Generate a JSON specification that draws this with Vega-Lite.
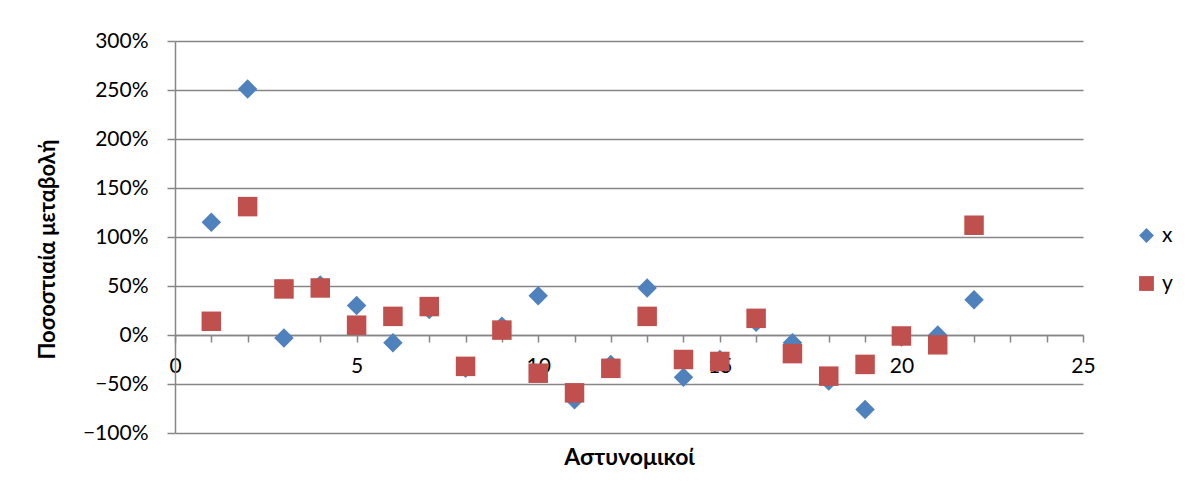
{
  "$schema": "https://vega.github.io/schema/vega-lite/v6.json",
  "width": 908,
  "height": 392,
  "autosize": "none",
  "padding": {"left": 175, "top": 41, "right": 104, "bottom": 62},
  "background": "white",
  "data": {
    "values": [
      {"n": 1, "series": "x", "value": 1.15},
      {"n": 2, "series": "x", "value": 2.51},
      {"n": 3, "series": "x", "value": -0.03},
      {"n": 4, "series": "x", "value": 0.51},
      {"n": 5, "series": "x", "value": 0.30},
      {"n": 6, "series": "x", "value": -0.08},
      {"n": 7, "series": "x", "value": 0.26},
      {"n": 8, "series": "x", "value": -0.34},
      {"n": 9, "series": "x", "value": 0.09},
      {"n": 10, "series": "x", "value": 0.40},
      {"n": 11, "series": "x", "value": -0.66},
      {"n": 12, "series": "x", "value": -0.30},
      {"n": 13, "series": "x", "value": 0.48},
      {"n": 14, "series": "x", "value": -0.43},
      {"n": 15, "series": "x", "value": -0.25},
      {"n": 16, "series": "x", "value": 0.13},
      {"n": 17, "series": "x", "value": -0.08},
      {"n": 18, "series": "x", "value": -0.47},
      {"n": 19, "series": "x", "value": -0.76},
      {"n": 20, "series": "x", "value": -0.02},
      {"n": 21, "series": "x", "value": 0.0},
      {"n": 22, "series": "x", "value": 0.36},
      {"n": 1, "series": "y", "value": 0.14},
      {"n": 2, "series": "y", "value": 1.31},
      {"n": 3, "series": "y", "value": 0.47},
      {"n": 4, "series": "y", "value": 0.48},
      {"n": 5, "series": "y", "value": 0.10},
      {"n": 6, "series": "y", "value": 0.19},
      {"n": 7, "series": "y", "value": 0.29},
      {"n": 8, "series": "y", "value": -0.32},
      {"n": 9, "series": "y", "value": 0.05},
      {"n": 10, "series": "y", "value": -0.39},
      {"n": 11, "series": "y", "value": -0.59},
      {"n": 12, "series": "y", "value": -0.34},
      {"n": 13, "series": "y", "value": 0.19},
      {"n": 14, "series": "y", "value": -0.25},
      {"n": 15, "series": "y", "value": -0.27},
      {"n": 16, "series": "y", "value": 0.17},
      {"n": 17, "series": "y", "value": -0.19},
      {"n": 18, "series": "y", "value": -0.42},
      {"n": 19, "series": "y", "value": -0.30},
      {"n": 20, "series": "y", "value": -0.01},
      {"n": 21, "series": "y", "value": -0.10},
      {"n": 22, "series": "y", "value": 1.12}
    ]
  },
  "mark": {"type": "point", "filled": true, "opacity": 1, "size": 380},
  "encoding": {
    "x": {
      "field": "n",
      "type": "quantitative",
      "scale": {"domain": [0, 25], "nice": false, "zero": true},
      "axis": {
        "values": [0,1,2,3,4,5,6,7,8,9,10,11,12,13,14,15,16,17,18,19,20,21,22,23,24,25],
        "labelExpr": "datum.value % 5 === 0 ? datum.label : ''",
        "offset": -98,
        "grid": false,
        "domainColor": "#868686",
        "domainWidth": 1.5,
        "tickColor": "#868686",
        "tickWidth": 1.5,
        "tickSize": 7,
        "labelPadding": 24,
        "labelBaseline": "middle",
        "labelFontSize": 21,
        "labelFont": "Lato",
        "labelColor": "#000000",
        "labelFlush": false,
        "labelOverlap": false,
        "title": "Αστυνομικοί",
        "titleFont": "Lato",
        "titleFontSize": 23,
        "titleFontWeight": "bold",
        "titleColor": "#000000",
        "titleY": 122,
        "titleX": 454,
        "titleBaseline": "middle",
        "titleAnchor": "middle"
      }
    },
    "y": {
      "field": "value",
      "type": "quantitative",
      "scale": {"domain": [-1, 3], "nice": false, "zero": false},
      "axis": {
        "values": [-1, -0.5, 0, 0.5, 1, 1.5, 2, 2.5, 3],
        "format": ".0%",
        "grid": true,
        "gridColor": "#868686",
        "gridWidth": 1.5,
        "domainColor": "#868686",
        "domainWidth": 1.5,
        "tickColor": "#868686",
        "tickWidth": 1.5,
        "tickSize": 8,
        "labelPadding": 19,
        "labelFontSize": 21,
        "labelFont": "Lato",
        "labelColor": "#000000",
        "labelFlush": false,
        "title": "Ποσοστιαία μεταβολή",
        "titleFont": "Lato",
        "titleFontSize": 22,
        "titleFontWeight": "bold",
        "titleColor": "#000000",
        "titleAngle": -90,
        "titleX": -128,
        "titleY": 208,
        "titleBaseline": "middle",
        "titleAlign": "center"
      }
    },
    "color": {
      "field": "series",
      "type": "nominal",
      "scale": {"domain": ["x", "y"], "range": ["#4F81BD", "#C0504D"]},
      "legend": {
        "title": null,
        "orient": "none",
        "legendX": 961,
        "legendY": 184,
        "labelFont": "Lato",
        "labelFontSize": 21,
        "labelColor": "#000000",
        "symbolSize": 220,
        "symbolStrokeWidth": 0,
        "rowPadding": 26,
        "labelOffset": 5
      }
    },
    "shape": {
      "field": "series",
      "type": "nominal",
      "scale": {"domain": ["x", "y"], "range": ["diamond", "square"]}
    }
  },
  "config": {
    "view": {"stroke": null}
  }
}
